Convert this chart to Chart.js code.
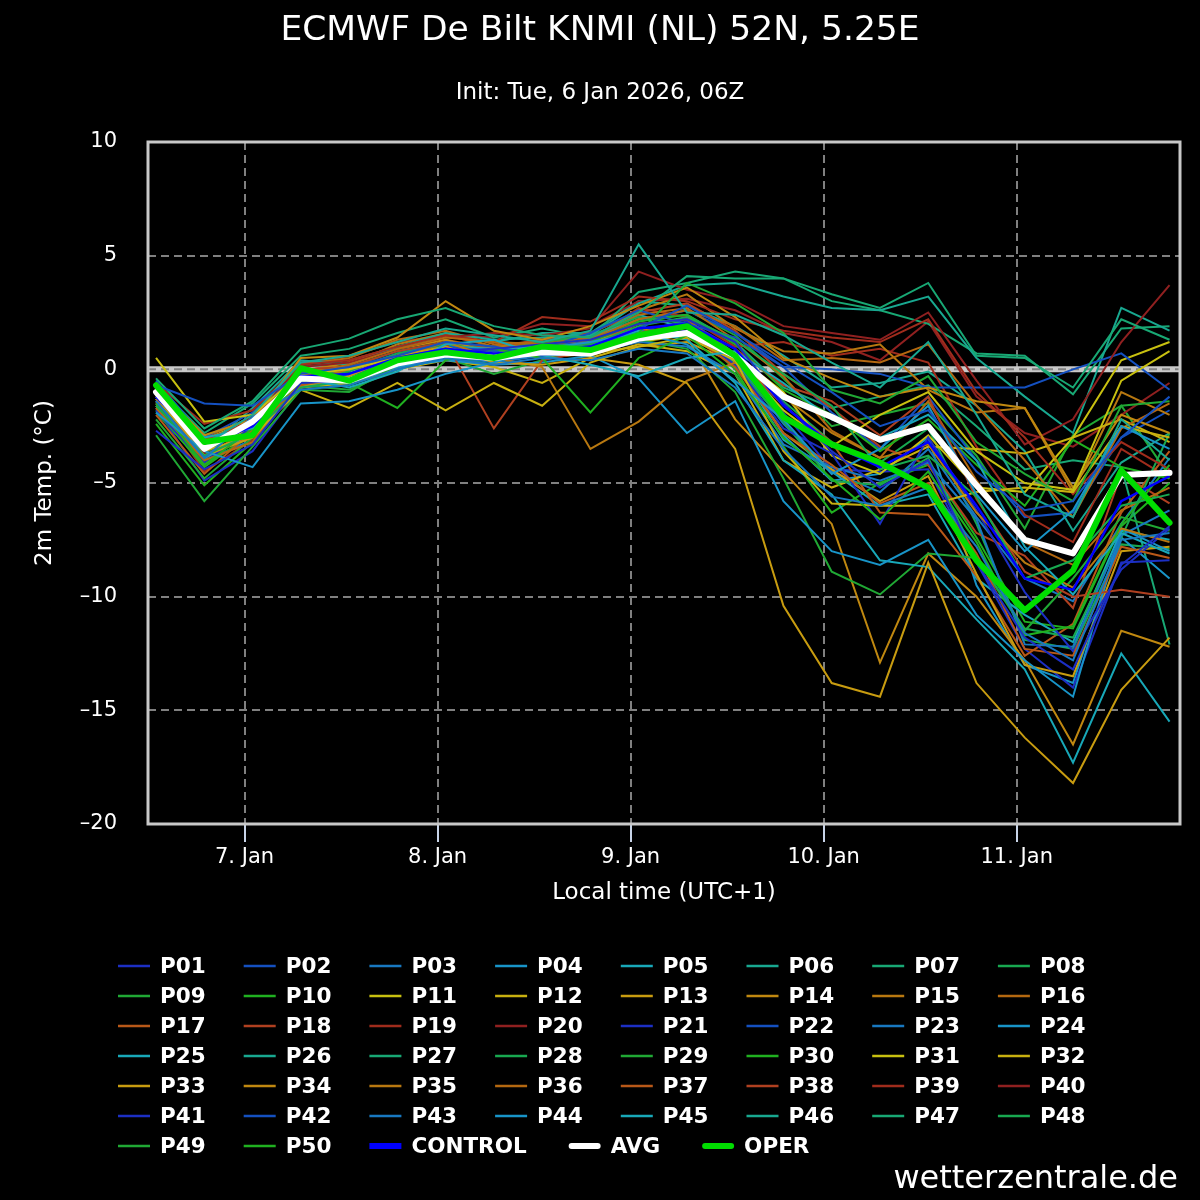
<!DOCTYPE html>
<html>
<head>
<meta charset="utf-8">
<script src="https://cdn.jsdelivr.net/npm/chart.js@4.4.1/dist/chart.umd.min.js"></script>
<style>
html, body { margin: 0; padding: 0; background: #000; }
#wrap { width: 1200px; height: 1200px; }
</style>
</head>
<body>
<div id="wrap"><canvas id="ens" width="1200" height="1200"></canvas></div>
<script>
// 시간축 : 1월 7일 00시(현지) 기준 시간, 6시간 간격
const hours = [-11, -5, 1, 7, 13, 19, 25, 31, 37, 43, 49, 55, 61, 67, 73, 79, 85, 91, 97, 103, 109, 115];
const dayTicks = [0, 24, 48, 72, 96];
const dayLabels = ['7. Jan', '8. Jan', '9. Jan', '10. Jan', '11. Jan'];
const tempTicks = [-20, -15, -10, -5, 0, 5, 10];

// 앙상블 멤버 (2m 기온, °C)
const p01 = [-2.7,-4.4,-3.3,-0.6,-0.5,0.2,0.6,0.9,1.1,1.3,2.0,2.2,1.2,-1.5,-3.6,-5.2,-4.0,-8.5,-11.8,-13.2,-8.6,-6.9];
const p02 = [-0.7,-1.5,-1.6,-0.2,0.1,0.6,1.2,1.0,0.6,1.0,1.8,2.8,1.6,0.3,-1.0,-2.5,-1.8,-4.5,-6.2,-5.8,-3.0,-1.2];
const p03 = [-1.4,-3.9,-2.1,-0.9,-0.7,0.0,0.5,0.2,0.5,0.4,0.9,0.7,-0.8,-3.5,-5.6,-6.0,-5.2,-7.8,-11.6,-12.8,-7.5,-7.2];
const p04 = [-1.9,-3.6,-4.3,-1.5,-1.4,-0.9,-0.2,0.3,0.9,1.2,1.6,1.1,-0.5,-2.2,-4.6,-3.5,-1.6,-5.5,-8.0,-6.2,-2.5,-3.5];
const p05 = [-1.2,-3.0,-2.6,-0.4,-0.8,-0.1,1.1,1.3,0.6,0.2,-0.3,0.5,0.8,-0.6,-2.2,-3.0,-2.0,-4.0,-7.8,-9.9,-7.2,-8.1];
const p06 = [-0.9,-3.3,-2.0,0.3,0.6,1.2,1.8,1.5,1.2,1.7,5.5,2.5,2.4,1.5,0.3,-0.8,1.2,-2.0,-5.5,-6.5,-2.2,-4.0];
const p07 = [-0.4,-2.6,-1.4,0.9,1.35,2.2,2.7,1.9,1.5,1.4,2.5,4.1,4.0,4.0,3.3,2.7,3.8,0.6,0.5,-0.8,2.2,1.3];
const p08 = [-1.6,-3.8,-2.8,-0.8,-0.5,0.3,0.8,0.6,1.0,1.1,1.9,2.3,1.3,-0.2,-1.6,-4.4,-3.8,-5.6,-9.2,-8.4,-6.0,-5.5];
const p09 = [-2.9,-5.8,-3.4,-0.9,-1.0,0.2,0.9,0.5,0.8,1.0,1.6,3.8,2.9,1.6,-0.9,-1.5,-0.3,-3.2,-4.6,-5.8,-1.6,-1.4];
const p10 = [-1.5,-4.2,-2.6,-0.5,-0.6,-1.7,0.4,0.9,0.5,-1.9,0.5,1.5,-0.2,-3.0,-4.8,-6.6,-4.5,-7.6,-11.7,-11.3,-6.8,-4.2];
const p11 = [0.5,-2.3,-2.0,-0.2,0.0,0.5,0.8,0.7,0.9,0.6,1.3,1.6,0.5,-1.8,-3.4,-2.0,-1.0,-3.6,-5.0,-5.3,-0.5,0.8];
const p12 = [-1.1,-3.6,-2.9,-0.9,-1.7,-0.6,-1.8,-0.6,-1.6,0.3,1.0,1.4,0.4,-3.6,-5.9,-6.0,-6.0,-5.4,-5.2,-5.4,-2.5,-3.0];
const p13 = [-1.2,-3.8,-3.0,-0.8,-0.3,0.6,1.0,0.3,0.2,0.5,0.2,-0.6,-3.5,-10.4,-13.8,-14.4,-8.5,-13.8,-16.2,-18.2,-14.1,-11.8];
const p14 = [-0.8,-2.9,-2.2,0.5,0.6,1.4,3.0,1.7,1.3,1.9,2.8,3.6,2.3,0.5,-0.4,-1.2,-0.8,-1.4,-1.7,-5.2,-2.0,-2.8];
const p15 = [-1.3,-3.4,-2.5,-0.6,0.0,0.5,1.2,0.5,0.1,-3.5,-2.3,-0.5,0.3,-1.2,-2.8,-3.9,-3.3,-6.3,-8.5,-9.6,-7.0,-7.6];
const p16 = [-1.7,-4.0,-3.2,-0.3,0.2,0.9,1.4,1.2,1.1,1.3,2.2,2.6,1.9,0.4,0.5,0.3,1.1,-1.6,-4.0,-6.5,-2.6,-1.5];
const p17 = [-2.0,-4.6,-2.7,-0.7,-0.4,0.3,0.7,0.4,0.8,1.0,1.4,1.6,0.1,-2.8,-4.2,-5.9,-5.0,-8.1,-12.3,-12.6,-7.8,-8.3];
const p18 = [-1.0,-3.1,-2.3,0.0,0.1,0.8,1.2,-2.6,0.4,0.8,1.6,2.0,0.9,-0.7,-1.4,-2.9,-1.2,-5.7,-8.9,-10.0,-9.7,-10.0];
const p19 = [-0.6,-2.4,-1.8,0.2,0.4,1.0,1.5,1.2,2.3,2.1,3.2,3.0,2.2,1.7,1.4,1.2,2.2,-1.0,-3.0,-5.5,-3.2,-4.4];
const p20 = [-1.5,-3.7,-2.0,0.1,0.3,0.9,1.4,1.6,1.5,1.8,4.3,3.5,3.0,1.9,1.6,1.3,2.5,-0.5,-3.3,-2.2,1.2,3.7];
const p21 = [-1.8,-4.1,-2.5,-0.4,-0.2,0.4,0.8,0.9,0.7,0.8,1.5,1.7,0.2,-2.6,-3.7,-6.8,-3.0,-6.2,-9.8,-12.4,-8.8,-7.0];
const p22 = [-0.5,-3.0,-1.9,-0.1,-0.3,0.5,1.0,0.8,0.9,1.6,2.6,2.0,1.4,0.1,0.0,-0.2,-0.8,-0.8,-0.8,0.0,0.7,-0.9];
const p23 = [-1.3,-3.2,-2.2,-0.5,-0.4,0.2,0.6,0.3,0.6,0.7,1.2,1.0,-0.2,-3.3,-4.3,-4.9,-4.1,-6.6,-12.1,-12.2,-7.3,-6.2];
const p24 = [-1.1,-3.9,-2.9,-0.2,-0.6,0.1,0.4,0.2,0.3,0.6,-0.4,-2.8,-1.4,-5.8,-8.0,-8.6,-7.5,-10.8,-12.8,-14.4,-7.0,-8.0];
const p25 = [-1.0,-3.3,-2.5,-0.6,-0.2,0.5,1.0,0.9,1.0,1.1,1.7,1.3,-0.6,-4.0,-5.5,-8.4,-8.7,-11.0,-13.2,-17.3,-12.5,-15.5];
const p26 = [-1.2,-3.5,-1.7,0.4,0.2,1.0,1.6,1.3,1.4,1.5,2.9,3.7,3.8,3.2,2.7,2.6,3.2,0.5,-1.2,-2.8,2.7,1.7];
const p27 = [-0.7,-2.8,-1.5,0.6,0.9,1.6,2.2,1.4,1.8,1.4,3.4,3.8,4.3,4.0,3.0,2.6,2.0,0.7,0.6,-1.1,1.8,1.9];
const p28 = [-1.4,-3.7,-2.4,-0.3,-0.1,0.7,1.1,0.8,1.2,1.5,2.3,2.0,0.2,-2.3,-4.9,-5.1,-3.9,-8.3,-11.4,-11.8,-7.4,-2.8];
const p29 = [-2.2,-4.8,-3.0,-0.7,-0.9,0.0,0.5,-0.2,0.4,0.9,1.3,0.9,-1.0,-4.8,-8.9,-9.9,-8.1,-8.3,-11.5,-9.2,-6.5,-7.1];
const p30 = [-1.8,-4.3,-2.8,-0.4,-0.3,0.4,0.9,0.5,0.7,1.2,2.1,2.4,1.1,-0.9,-2.0,-3.6,-2.2,-4.2,-6.0,-3.1,-4.3,-4.8];
const p31 = [-0.9,-3.1,-2.2,-0.5,-0.4,0.2,0.8,0.6,0.7,0.8,1.2,1.5,0.6,-1.0,-3.8,-4.6,-2.9,-5.2,-5.4,-3.0,0.4,1.2];
const p32 = [-1.6,-3.5,-2.6,-0.8,-0.6,0.0,0.4,0.1,-0.6,0.5,1.1,0.8,-0.2,-4.0,-5.2,-4.4,-3.4,-3.5,-3.7,-3.0,-2.2,-3.2];
const p33 = [-1.3,-3.9,-2.7,-0.3,0.0,0.6,0.9,0.8,0.5,0.7,1.0,1.2,0.3,-2.8,-4.4,-5.8,-4.7,-9.0,-13.0,-13.5,-8.0,-7.8];
const p34 = [-1.1,-3.2,-2.4,-0.1,0.3,0.9,1.3,0.7,0.9,1.2,1.8,1.4,-2.2,-4.5,-6.8,-12.9,-8.1,-10.0,-12.8,-16.5,-11.5,-12.2];
const p35 = [-1.5,-3.9,-2.8,-0.2,0.2,1.1,1.6,1.0,1.1,1.3,2.6,3.3,1.8,0.8,0.7,1.1,-0.9,-1.9,-1.7,-5.4,-1.0,-2.0];
const p36 = [-0.8,-3.0,-2.1,0.2,0.5,1.3,1.7,1.1,1.2,1.4,2.4,2.7,1.3,-0.3,-2.7,-3.9,-1.4,-4.9,-7.6,-8.6,-6.2,-5.2];
const p37 = [-1.7,-3.8,-2.6,-0.1,0.3,0.9,1.3,0.9,1.0,1.1,2.0,2.2,0.6,-1.6,-3.2,-6.3,-6.4,-9.1,-12.6,-11.2,-6.3,-3.6];
const p38 = [-1.2,-3.4,-2.3,0.3,0.4,1.0,1.5,1.0,1.3,1.6,2.5,2.9,1.7,-0.2,-1.7,-3.4,-4.2,-7.2,-8.2,-10.5,-4.6,-5.9];
const p39 = [-1.4,-4.5,-3.1,-0.4,-0.2,0.6,1.0,0.8,1.4,1.3,2.7,2.3,1.0,1.2,0.6,0.9,0.3,-3.4,-6.4,-7.6,-3.5,-4.8];
const p40 = [-0.9,-3.2,-2.4,0.2,0.6,1.2,1.5,1.4,2.0,1.9,3.0,3.1,2.6,1.6,1.2,0.4,2.1,-1.2,-2.8,-3.4,-2.0,-0.6];
const p41 = [-1.7,-4.9,-3.6,-0.8,-0.6,0.1,0.5,0.4,0.6,1.0,1.7,2.1,0.9,-1.9,-4.4,-4.5,-4.4,-8.5,-12.3,-14.0,-8.5,-8.4];
const p42 = [-0.9,-3.3,-2.0,-0.3,0.0,0.7,1.2,1.0,1.0,1.2,2.1,2.6,1.6,0.1,-1.9,-3.5,-1.2,-4.0,-6.5,-6.3,-3.0,-1.8];
const p43 = [-1.4,-4.0,-3.1,-0.7,-0.5,0.3,0.8,0.6,0.9,1.0,1.8,1.6,0.4,-2.4,-4.5,-5.4,-3.5,-6.5,-9.2,-10.2,-6.8,-3.9];
const p44 = [-1.6,-3.6,-2.5,-0.2,-0.2,0.4,0.9,0.7,0.6,0.8,1.4,1.9,0.5,-2.9,-4.9,-4.6,-3.0,-9.5,-13.0,-13.8,-7.4,-9.2];
const p45 = [-1.3,-3.8,-2.7,-0.6,-0.3,0.3,0.7,0.6,0.9,1.3,2.4,1.8,0.3,-3.1,-4.5,-6.0,-5.5,-9.2,-10.8,-12.0,-7.1,-7.5];
const p46 = [-1.5,-3.1,-2.2,0.1,0.3,0.9,1.5,1.2,1.6,1.6,3.0,2.8,1.9,0.6,-0.8,-0.6,-0.1,-1.6,-3.6,-7.1,-4.1,-2.8];
const p47 = [-1.0,-3.6,-2.3,-0.1,0.1,0.8,1.2,0.9,1.1,1.4,2.2,2.4,1.2,-0.8,-1.7,-1.2,-0.7,-2.5,-4.4,-4.0,-4.3,-12.1];
const p48 = [-1.9,-4.2,-2.9,-0.5,-0.3,0.4,0.9,0.6,1.0,1.2,2.0,2.2,0.7,-1.4,-3.2,-4.1,-2.6,-6.8,-11.9,-12.3,-7.7,-7.9];
const p49 = [-1.2,-3.4,-2.3,-0.2,0.0,0.6,1.1,0.9,1.1,1.3,2.2,2.6,1.5,-0.4,-2.5,-2.0,-1.5,-3.8,-7.0,-2.9,-1.6,-4.7];
const p50 = [-2.4,-5.1,-3.2,-0.6,-0.7,0.2,0.6,0.2,0.8,0.9,1.5,1.9,0.0,-3.4,-6.3,-5.0,-4.2,-7.4,-11.1,-11.4,-6.9,-5.0];

const control = [-1.2,-3.4,-2.5,-0.3,-0.2,0.5,0.9,0.7,0.8,1.0,1.8,2.0,0.9,-1.6,-3.3,-4.3,-3.2,-6.0,-9.2,-9.7,-5.8,-4.7];
const avg = [-1.0,-3.5,-2.3,-0.4,-0.5,0.25,0.65,0.5,0.75,0.7,1.35,1.6,0.6,-1.2,-2.1,-3.1,-2.5,-5.1,-7.5,-8.1,-4.65,-4.55];
const oper = [-0.7,-3.2,-2.9,0.05,-0.5,0.4,0.75,0.5,1.0,0.85,1.5,1.9,0.6,-2.1,-3.3,-4.1,-5.2,-8.4,-10.6,-8.85,-4.45,-6.75];

const members = [p01,p02,p03,p04,p05,p06,p07,p08,p09,p10,p11,p12,p13,p14,p15,p16,p17,p18,p19,p20,
                 p21,p22,p23,p24,p25,p26,p27,p28,p29,p30,p31,p32,p33,p34,p35,p36,p37,p38,p39,p40,
                 p41,p42,p43,p44,p45,p46,p47,p48,p49,p50];

// 멤버 색상 (20개 주기로 반복)
const palette = ['#1c2fc4','#1450c0','#1878c0','#1894c8','#18a8b8','#18a890','#18a874','#18a850','#20a834','#20b020',
                 '#c8c010','#c8b010','#c89c10','#c08810','#b87810','#b46810','#b85818','#b04020','#a02c1c','#902020'];

const FONT = '"DejaVu Sans", Verdana, sans-serif';

const toPts = vals => hours.map((h, i) => ({ x: h, y: vals[i] }));

const datasets = members.map((vals, i) => ({
    label: 'P' + String(i + 1).padStart(2, '0'),
    data: toPts(vals),
    borderColor: palette[i % 20],
    borderWidth: 2,
    pointRadius: 0,
    order: 3
}));
datasets.push({ label: 'CONTROL', data: toPts(control), borderColor: '#0000ff', borderWidth: 2.5, pointRadius: 0, order: 2 });
datasets.push({ label: 'AVG', data: toPts(avg), borderColor: '#ffffff', borderWidth: 6, pointRadius: 0, order: 1,
                borderCapStyle: 'round', borderJoinStyle: 'round' });
datasets.push({ label: 'OPER', data: toPts(oper), borderColor: '#00dd00', borderWidth: 6, pointRadius: 0, order: 0,
                borderCapStyle: 'round', borderJoinStyle: 'round' });

// 0도 선 (밝은 회색 띠 + 점선)
const zeroLine = {
    id: 'zeroLine',
    beforeDatasetsDraw(chart) {
        const { ctx, chartArea: a, scales: { y } } = chart;
        const py = y.getPixelForValue(0);
        ctx.save();
        ctx.strokeStyle = '#c8c8c8';
        ctx.lineWidth = 6;
        ctx.beginPath(); ctx.moveTo(a.left, py); ctx.lineTo(a.right, py); ctx.stroke();
        ctx.strokeStyle = '#808080';
        ctx.lineWidth = 2;
        ctx.setLineDash([8, 5]);
        ctx.beginPath(); ctx.moveTo(a.left, py); ctx.lineTo(a.right, py); ctx.stroke();
        ctx.restore();
    }
};

// 그래프 테두리
const frame = {
    id: 'frame',
    afterDatasetsDraw(chart) {
        const { ctx, chartArea: a } = chart;
        ctx.save();
        ctx.strokeStyle = '#c8c8c8';
        ctx.lineWidth = 3;
        ctx.strokeRect(a.left, a.top, a.right - a.left, a.bottom - a.top);
        ctx.restore();
    }
};

// 8열 범례 + 워터마크
const gridLegend = {
    id: 'gridLegend',
    afterDraw(chart) {
        const ctx = chart.ctx;
        ctx.save();
        ctx.font = 'bold 21.5px ' + FONT;
        let x = 118, row = -1;
        chart.data.datasets.forEach((ds, i) => {
            const r = Math.floor(i / 8);
            if (r !== row) { row = r; x = 118; }
            const y0 = 966 + r * 30;
            const round = ds.label === 'AVG' || ds.label === 'OPER';
            ctx.strokeStyle = ds.borderColor;
            ctx.lineWidth = ds.borderWidth > 2 ? 6 : 2.5;
            ctx.lineCap = round ? 'round' : 'butt';
            ctx.beginPath();
            ctx.moveTo(x + (round ? 3 : 0), y0);
            ctx.lineTo(x + (round ? 29 : 32), y0);
            ctx.stroke();
            ctx.fillStyle = '#ffffff';
            ctx.textBaseline = 'middle';
            ctx.textAlign = 'left';
            ctx.fillText(ds.label, x + 42, y0 + 1);
            const w = ctx.measureText(ds.label).width;
            x += ds.label.startsWith('P') ? 125.7 : 42 + w + 42;
        });
        ctx.font = '32px ' + FONT;
        ctx.textAlign = 'right';
        ctx.textBaseline = 'alphabetic';
        ctx.fillText('wetterzentrale.de', 1178, 1188);
        ctx.restore();
    }
};

const blackBg = {
    id: 'blackBg',
    beforeDraw(chart) {
        const ctx = chart.ctx;
        ctx.save();
        ctx.fillStyle = '#000';
        ctx.fillRect(0, 0, chart.width, chart.height);
        ctx.restore();
    }
};

const config = {
    type: 'line',
    data: { datasets: datasets },
    options: {
        responsive: false,
        animation: false,
        events: [],
        layout: { padding: { left: 0, right: 0, top: 0, bottom: 276 } },
        plugins: {
            legend: { display: false },
            tooltip: { enabled: false },
            title: {
                display: true,
                text: 'ECMWF De Bilt KNMI (NL) 52N, 5.25E',
                color: '#ffffff',
                font: { family: FONT, size: 34.5, weight: 'normal' },
                padding: { top: 10, bottom: 0 }
            },
            subtitle: {
                display: true,
                text: 'Init: Tue, 6 Jan 2026, 06Z',
                color: '#ffffff',
                font: { family: FONT, size: 23, weight: 'normal' },
                padding: { top: 28.3, bottom: 34.7 }
            }
        },
        scales: {
            x: {
                type: 'linear',
                min: -12,
                max: 116.3,
                afterBuildTicks: s => { s.ticks = dayTicks.map(v => ({ value: v })); },
                afterFit: s => { s.height = 100; },
                ticks: {
                    color: '#ffffff',
                    font: { family: FONT, size: 21 },
                    padding: 3,
                    maxRotation: 0,
                    autoSkip: false,
                    callback: v => dayLabels[dayTicks.indexOf(v)]
                },
                grid: { color: '#808080', lineWidth: 2, tickColor: '#c8d4e8', tickLength: 18, tickWidth: 2, tickBorderDash: [] },
                border: { display: false, dash: [8, 5] },
                title: {
                    display: true,
                    text: 'Local time (UTC+1)',
                    color: '#ffffff',
                    font: { family: FONT, size: 23 },
                    padding: { top: 0, bottom: 17 }
                }
            },
            y: {
                min: -20,
                max: 10,
                afterBuildTicks: s => { s.ticks = tempTicks.map(v => ({ value: v })); },
                afterFit: s => { s.width = 148; },
                ticks: {
                    color: '#ffffff',
                    font: { family: FONT, size: 21 },
                    padding: 31,
                    callback: v => (v < 0 ? '\u2013' + Math.abs(v) : String(v))
                },
                grid: { color: '#808080', lineWidth: 2, drawTicks: false },
                border: { display: false, dash: [8, 5] },
                title: {
                    display: true,
                    text: '2m Temp. (°C)',
                    color: '#ffffff',
                    font: { family: FONT, size: 23 },
                    padding: { top: 31, bottom: 0 }
                }
            },
            // 오른쪽 여백용 빈 축
            yRight: {
                position: 'right',
                min: -20,
                max: 10,
                grid: { display: false },
                ticks: { display: false },
                border: { display: false },
                afterFit: s => { s.width = 20; }
            }
        }
    },
    plugins: [blackBg, zeroLine, frame, gridLegend]
};

const ensChart = new Chart(document.getElementById('ens'), config);
</script>
</body>
</html>
